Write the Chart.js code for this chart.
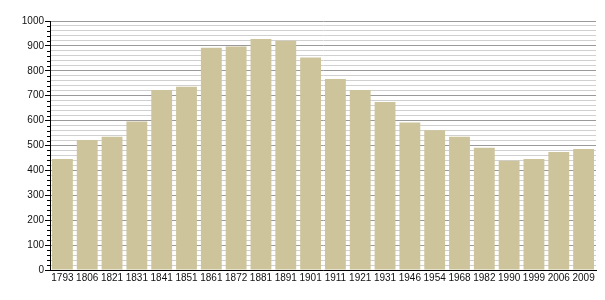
<!DOCTYPE html>
<html><head><meta charset="utf-8">
<script src="https://cdn.jsdelivr.net/npm/chart.js@4/dist/chart.umd.min.js"></script>
<style>html,body{margin:0;padding:0;background:#fff}#wrap{width:605px;height:300px}</style>
</head><body><div id="wrap"><canvas id="c" width="605" height="300"></canvas></div>
<script>
const years = ["1793","1806","1821","1831","1841","1851","1861","1872","1881","1891","1901","1911","1921","1931","1946","1954","1968","1982","1990","1999","2006","2009"];
const population = [446,522,535,596,723,736,893,898,928,921,853,767,723,675,592,561,535,491,439,446,474,486];
const yMin = 0, yMax = 1000, majorStep = 100, minorStep = 20;
const FONT = "'Liberation Sans', Arial, sans-serif";

const minorTicks = {
  id: 'minorTicks',
  afterDraw(chart) {
    const s = chart.scales.y, ctx = chart.ctx;
    ctx.save();
    ctx.strokeStyle = '#000'; ctx.lineWidth = 1;
    for (const t of s.ticks) {
      if (t.value % majorStep === 0) continue;
      const y = Math.round(s.getPixelForValue(t.value)) + 0.5;
      ctx.beginPath(); ctx.moveTo(s.right - 3, y); ctx.lineTo(s.right, y); ctx.stroke();
    }
    ctx.restore();
  }
};

new Chart(document.getElementById('c'), {
  type: 'bar',
  data: { labels: years, datasets: [{ data: population, backgroundColor: '#cdc49b', barPercentage: 0.84, categoryPercentage: 1 }] },
  options: {
    responsive: false, animation: false,
    layout: { padding: { top: 21, right: 9, left: 0, bottom: 0 } },
    plugins: { legend: { display: false }, tooltip: { enabled: false } },
    scales: {
      x: {
        afterFit(s) { s.height = 30; },
        grid: { display: false, drawTicks: false, tickLength: 0 },
        border: { color: '#000', width: 1 },
        ticks: { color: '#111', font: { family: FONT, size: 10 }, maxRotation: 0, autoSkip: false, padding: 2 }
      },
      y: {
        min: yMin, max: yMax,
        afterFit(s) { s.width = 50; },
        border: { color: '#000', width: 1 },
        grid: {
          color: c => (c.tick && c.tick.value % majorStep === 0) ? '#9a9a9a' : '#d0d0d0',
          tickColor: c => (c.tick && c.tick.value % majorStep === 0) ? '#000' : 'rgba(0,0,0,0)',
          tickLength: 5, lineWidth: 1
        },
        ticks: {
          stepSize: minorStep, autoSkip: false, padding: 1, color: '#111',
          font: { family: FONT, size: 10 },
          callback: v => (v % majorStep === 0) ? String(v) : ''
        }
      }
    }
  },
  plugins: [minorTicks]
});
</script></body></html>
